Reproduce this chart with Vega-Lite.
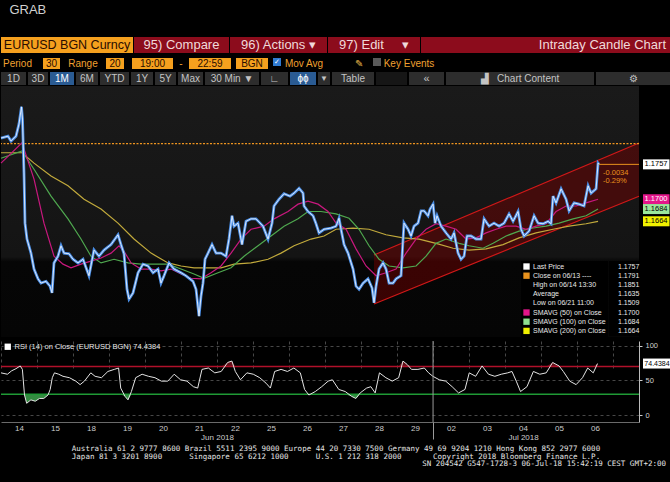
{
"$schema":"https://vega.github.io/schema/vega-lite/v6.json",
"background":"#000000",
"padding":{"left":-5,"top":4,"right":0,"bottom":16},
"title":{"text":"GRAB","anchor":"start","dx":14,"offset":20,"fontSize":13,"fontWeight":"normal","color":"#d0d0d0"},
"spacing":1,
"resolve":{"scale":{"color":"independent","shape":"independent","fill":"independent"},"legend":{"color":"independent","shape":"independent"}},
"datasets":{
"channel":[{"t":10.36,"hi":1.1609,"lo":1.1529},{"t":17.72,"hi":1.1792,"lo":1.1705}],
"boxes":[{"k":"Last","v":1.1757,"lab":"1.1757"},{"k":"S50","v":1.17,"lab":"1.1700"},{"k":"S100","v":1.1684,"lab":"1.1684"},{"k":"S200","v":1.1664,"lab":"1.1664"}],
"price":[{"t":0,"p":1.18},{"t":0.194,"p":1.1803},{"t":0.278,"p":1.1795},{"t":0.417,"p":1.1803},{"t":0.5,"p":1.1823},{"t":0.569,"p":1.1851},{"t":0.597,"p":1.1831},{"t":0.639,"p":1.1743},{"t":0.667,"p":1.1661},{"t":0.722,"p":1.1635},{"t":0.833,"p":1.1612},{"t":0.917,"p":1.1586},{"t":1.028,"p":1.157},{"t":1.111,"p":1.1563},{"t":1.25,"p":1.1566},{"t":1.361,"p":1.1558},{"t":1.417,"p":1.1547},{"t":1.472,"p":1.1596},{"t":1.583,"p":1.1607},{"t":1.667,"p":1.1624},{"t":1.75,"p":1.1612},{"t":1.889,"p":1.1611},{"t":2.0,"p":1.1602},{"t":2.139,"p":1.1596},{"t":2.278,"p":1.1602},{"t":2.444,"p":1.1575},{"t":2.583,"p":1.1617},{"t":2.722,"p":1.1607},{"t":2.861,"p":1.1617},{"t":3.056,"p":1.1626},{"t":3.25,"p":1.1642},{"t":3.333,"p":1.1626},{"t":3.417,"p":1.1611},{"t":3.5,"p":1.1553},{"t":3.556,"p":1.1537},{"t":3.667,"p":1.1547},{"t":3.806,"p":1.158},{"t":3.944,"p":1.1594},{"t":4.083,"p":1.1591},{"t":4.222,"p":1.158},{"t":4.361,"p":1.1586},{"t":4.444,"p":1.1563},{"t":4.528,"p":1.1575},{"t":4.667,"p":1.1596},{"t":4.806,"p":1.1586},{"t":5.0,"p":1.158},{"t":5.139,"p":1.1575},{"t":5.333,"p":1.1566},{"t":5.417,"p":1.1553},{"t":5.5,"p":1.1509},{"t":5.556,"p":1.1542},{"t":5.611,"p":1.1563},{"t":5.667,"p":1.1602},{"t":5.75,"p":1.1612},{"t":5.861,"p":1.1626},{"t":5.972,"p":1.1612},{"t":6.111,"p":1.1612},{"t":6.25,"p":1.1607},{"t":6.333,"p":1.1635},{"t":6.417,"p":1.1673},{"t":6.472,"p":1.1656},{"t":6.583,"p":1.1661},{"t":6.694,"p":1.1626},{"t":6.806,"p":1.1664},{"t":6.944,"p":1.1668},{"t":7.083,"p":1.1668},{"t":7.278,"p":1.1656},{"t":7.417,"p":1.1635},{"t":7.528,"p":1.1661},{"t":7.583,"p":1.1689},{"t":7.722,"p":1.17},{"t":7.861,"p":1.1709},{"t":8.028,"p":1.1705},{"t":8.139,"p":1.171},{"t":8.278,"p":1.1718},{"t":8.389,"p":1.171},{"t":8.417,"p":1.1689},{"t":8.528,"p":1.168},{"t":8.667,"p":1.1673},{"t":8.75,"p":1.166},{"t":8.833,"p":1.1645},{"t":8.972,"p":1.1651},{"t":9.167,"p":1.1653},{"t":9.306,"p":1.1656},{"t":9.389,"p":1.1669},{"t":9.444,"p":1.1651},{"t":9.528,"p":1.1626},{"t":9.639,"p":1.1612},{"t":9.778,"p":1.1586},{"t":9.861,"p":1.1558},{"t":9.944,"p":1.1553},{"t":10.056,"p":1.1563},{"t":10.194,"p":1.157},{"t":10.306,"p":1.1555},{"t":10.361,"p":1.1531},{"t":10.417,"p":1.1558},{"t":10.5,"p":1.1586},{"t":10.611,"p":1.1596},{"t":10.694,"p":1.1586},{"t":10.778,"p":1.1563},{"t":10.889,"p":1.1563},{"t":10.972,"p":1.157},{"t":11.111,"p":1.1575},{"t":11.167,"p":1.1635},{"t":11.194,"p":1.1661},{"t":11.306,"p":1.1651},{"t":11.389,"p":1.164},{"t":11.472,"p":1.1656},{"t":11.583,"p":1.1661},{"t":11.667,"p":1.1681},{"t":11.75,"p":1.1681},{"t":11.861,"p":1.1673},{"t":11.917,"p":1.1684},{"t":12.0,"p":1.1692},{"t":12.056,"p":1.1661},{"t":12.111,"p":1.1673},{"t":12.222,"p":1.1656},{"t":12.361,"p":1.1645},{"t":12.5,"p":1.1635},{"t":12.583,"p":1.1645},{"t":12.694,"p":1.1612},{"t":12.778,"p":1.1602},{"t":12.861,"p":1.1607},{"t":12.944,"p":1.164},{"t":13.056,"p":1.164},{"t":13.194,"p":1.1635},{"t":13.333,"p":1.1635},{"t":13.417,"p":1.1668},{"t":13.556,"p":1.1656},{"t":13.694,"p":1.1661},{"t":13.833,"p":1.1656},{"t":13.972,"p":1.1661},{"t":14.111,"p":1.1676},{"t":14.222,"p":1.1664},{"t":14.361,"p":1.168},{"t":14.444,"p":1.1651},{"t":14.528,"p":1.164},{"t":14.667,"p":1.1648},{"t":14.806,"p":1.1673},{"t":14.917,"p":1.1661},{"t":15.056,"p":1.166},{"t":15.194,"p":1.1664},{"t":15.278,"p":1.166},{"t":15.333,"p":1.1705},{"t":15.417,"p":1.1694},{"t":15.556,"p":1.1717},{"t":15.694,"p":1.17},{"t":15.778,"p":1.1681},{"t":15.917,"p":1.1694},{"t":16.056,"p":1.1692},{"t":16.194,"p":1.1689},{"t":16.306,"p":1.1722},{"t":16.389,"p":1.171},{"t":16.528,"p":1.1717},{"t":16.583,"p":1.1759},{"t":16.611,"p":1.1757}],
"m50":[{"t":0,"v":1.1759},{"t":0.583,"v":1.1792},{"t":0.917,"v":1.1733},{"t":1.194,"v":1.1661},{"t":1.472,"v":1.1607},{"t":1.722,"v":1.1594},{"t":1.944,"v":1.1588},{"t":2.222,"v":1.1594},{"t":2.5,"v":1.1599},{"t":2.778,"v":1.1604},{"t":3.056,"v":1.1612},{"t":3.278,"v":1.1624},{"t":3.417,"v":1.1615},{"t":3.611,"v":1.1596},{"t":3.889,"v":1.1586},{"t":4.167,"v":1.1586},{"t":4.444,"v":1.1583},{"t":4.722,"v":1.1586},{"t":5.0,"v":1.1578},{"t":5.278,"v":1.1571},{"t":5.556,"v":1.157},{"t":5.833,"v":1.158},{"t":6.111,"v":1.1591},{"t":6.389,"v":1.1612},{"t":6.667,"v":1.1635},{"t":6.944,"v":1.1651},{"t":7.306,"v":1.1656},{"t":7.583,"v":1.1668},{"t":7.972,"v":1.168},{"t":8.25,"v":1.1692},{"t":8.528,"v":1.1697},{"t":8.806,"v":1.1692},{"t":9.083,"v":1.168},{"t":9.306,"v":1.1661},{"t":9.583,"v":1.1651},{"t":9.861,"v":1.1619},{"t":10.139,"v":1.1591},{"t":10.417,"v":1.1575},{"t":10.694,"v":1.158},{"t":10.972,"v":1.1586},{"t":11.25,"v":1.1612},{"t":11.528,"v":1.1635},{"t":11.806,"v":1.1651},{"t":12.083,"v":1.166},{"t":12.361,"v":1.1656},{"t":12.639,"v":1.1651},{"t":12.917,"v":1.1635},{"t":13.194,"v":1.1637},{"t":13.472,"v":1.1645},{"t":13.75,"v":1.1651},{"t":14.028,"v":1.1656},{"t":14.306,"v":1.1656},{"t":14.583,"v":1.1651},{"t":14.861,"v":1.1656},{"t":15.139,"v":1.166},{"t":15.417,"v":1.168},{"t":15.694,"v":1.1689},{"t":15.972,"v":1.1689},{"t":16.25,"v":1.1694},{"t":16.583,"v":1.17}],
"m100":[{"t":0,"v":1.1767},{"t":0.583,"v":1.1779},{"t":0.917,"v":1.1749},{"t":1.389,"v":1.1705},{"t":1.861,"v":1.1668},{"t":2.222,"v":1.1635},{"t":2.5,"v":1.1607},{"t":2.778,"v":1.1596},{"t":3.139,"v":1.1602},{"t":3.528,"v":1.1596},{"t":3.889,"v":1.1594},{"t":4.25,"v":1.1594},{"t":4.639,"v":1.1594},{"t":5.0,"v":1.1586},{"t":5.361,"v":1.1578},{"t":5.639,"v":1.1571},{"t":6.028,"v":1.158},{"t":6.389,"v":1.1588},{"t":6.75,"v":1.1607},{"t":7.139,"v":1.1624},{"t":7.5,"v":1.164},{"t":7.861,"v":1.1656},{"t":8.25,"v":1.1668},{"t":8.528,"v":1.168},{"t":8.889,"v":1.168},{"t":9.306,"v":1.1676},{"t":9.667,"v":1.1669},{"t":9.944,"v":1.1651},{"t":10.222,"v":1.1624},{"t":10.5,"v":1.1602},{"t":10.778,"v":1.1591},{"t":11.167,"v":1.1588},{"t":11.528,"v":1.1591},{"t":11.806,"v":1.1607},{"t":12.083,"v":1.1628},{"t":12.361,"v":1.1635},{"t":12.722,"v":1.1628},{"t":13.0,"v":1.1624},{"t":13.389,"v":1.162},{"t":13.667,"v":1.1628},{"t":14.028,"v":1.164},{"t":14.389,"v":1.1648},{"t":14.778,"v":1.1653},{"t":15.139,"v":1.1656},{"t":15.5,"v":1.1661},{"t":15.889,"v":1.1668},{"t":16.25,"v":1.1673},{"t":16.583,"v":1.1684}],
"m200":[{"t":0,"v":1.1776},{"t":0.583,"v":1.1776},{"t":0.917,"v":1.1759},{"t":1.389,"v":1.1738},{"t":1.861,"v":1.1722},{"t":2.306,"v":1.17},{"t":2.778,"v":1.1684},{"t":3.25,"v":1.1661},{"t":3.694,"v":1.1635},{"t":4.167,"v":1.1612},{"t":4.639,"v":1.1596},{"t":5.0,"v":1.1591},{"t":5.361,"v":1.1588},{"t":5.75,"v":1.1588},{"t":6.111,"v":1.1588},{"t":6.472,"v":1.1594},{"t":6.944,"v":1.1596},{"t":7.417,"v":1.1602},{"t":7.778,"v":1.1612},{"t":8.139,"v":1.1624},{"t":8.611,"v":1.1635},{"t":8.972,"v":1.164},{"t":9.306,"v":1.1651},{"t":9.778,"v":1.1653},{"t":10.222,"v":1.1651},{"t":10.694,"v":1.1642},{"t":11.167,"v":1.1637},{"t":11.611,"v":1.1635},{"t":12.083,"v":1.1628},{"t":12.556,"v":1.162},{"t":13.0,"v":1.1617},{"t":13.472,"v":1.1619},{"t":13.944,"v":1.1626},{"t":14.389,"v":1.1637},{"t":14.861,"v":1.1645},{"t":15.333,"v":1.1651},{"t":15.778,"v":1.1656},{"t":16.25,"v":1.166},{"t":16.583,"v":1.1664}],
"rsi":[{"t":0,"r":61},{"t":0.178,"r":59},{"t":0.297,"r":64},{"t":0.416,"r":67},{"t":0.534,"r":71},{"t":0.594,"r":66},{"t":0.653,"r":29},{"t":0.713,"r":17},{"t":0.831,"r":22},{"t":0.95,"r":20},{"t":1.069,"r":24},{"t":1.188,"r":24},{"t":1.306,"r":29},{"t":1.366,"r":37},{"t":1.425,"r":54},{"t":1.485,"r":61},{"t":1.603,"r":59},{"t":1.722,"r":56},{"t":1.9,"r":54},{"t":2.078,"r":49},{"t":2.197,"r":44},{"t":2.316,"r":49},{"t":2.494,"r":61},{"t":2.613,"r":56},{"t":2.791,"r":54},{"t":2.969,"r":63},{"t":3.147,"r":66},{"t":3.266,"r":68},{"t":3.325,"r":39},{"t":3.444,"r":27},{"t":3.527,"r":22},{"t":3.622,"r":34},{"t":3.741,"r":54},{"t":3.919,"r":59},{"t":4.097,"r":56},{"t":4.276,"r":54},{"t":4.454,"r":49},{"t":4.632,"r":49},{"t":4.81,"r":59},{"t":4.988,"r":51},{"t":5.166,"r":49},{"t":5.344,"r":41},{"t":5.463,"r":39},{"t":5.582,"r":66},{"t":5.76,"r":68},{"t":5.938,"r":61},{"t":6.116,"r":63},{"t":6.295,"r":76},{"t":6.413,"r":78},{"t":6.508,"r":63},{"t":6.651,"r":51},{"t":6.829,"r":61},{"t":7.007,"r":59},{"t":7.185,"r":54},{"t":7.363,"r":46},{"t":7.482,"r":39},{"t":7.601,"r":63},{"t":7.779,"r":66},{"t":7.957,"r":63},{"t":8.135,"r":68},{"t":8.314,"r":61},{"t":8.432,"r":37},{"t":8.551,"r":29},{"t":8.729,"r":34},{"t":8.907,"r":41},{"t":9.086,"r":49},{"t":9.204,"r":51},{"t":9.382,"r":37},{"t":9.561,"r":34},{"t":9.739,"r":27},{"t":9.857,"r":24},{"t":9.976,"r":32},{"t":10.154,"r":39},{"t":10.273,"r":41},{"t":10.392,"r":32},{"t":10.511,"r":61},{"t":10.689,"r":54},{"t":10.867,"r":49},{"t":11.045,"r":54},{"t":11.164,"r":78},{"t":11.283,"r":73},{"t":11.401,"r":66},{"t":11.58,"r":66},{"t":11.758,"r":68},{"t":11.876,"r":61},{"t":11.995,"r":56},{"t":12.173,"r":51},{"t":12.352,"r":49},{"t":12.53,"r":41},{"t":12.708,"r":32},{"t":12.886,"r":37},{"t":13.005,"r":61},{"t":13.183,"r":56},{"t":13.361,"r":71},{"t":13.539,"r":59},{"t":13.717,"r":56},{"t":13.895,"r":59},{"t":14.074,"r":61},{"t":14.192,"r":63},{"t":14.311,"r":49},{"t":14.43,"r":34},{"t":14.608,"r":41},{"t":14.786,"r":63},{"t":14.964,"r":59},{"t":15.143,"r":61},{"t":15.321,"r":76},{"t":15.499,"r":71},{"t":15.618,"r":63},{"t":15.796,"r":49},{"t":15.974,"r":44},{"t":16.152,"r":54},{"t":16.295,"r":68},{"t":16.449,"r":61},{"t":16.568,"r":74.4}]
},
"vconcat":[
{"vconcat":[
 {"hconcat":[
  {"width":132,"height":16,"view":{"fill":"#f5a01e","stroke":null},"data":{"values":[{}]},"mark":{"type":"text","fontSize":12.5,"color":"#2a0c00"},"encoding":{"text":{"value":"EURUSD BGN Curncy"}}},
  {"width":95,"height":16,"view":{"fill":"#8c0c1c","stroke":null},"data":{"values":[{}]},"mark":{"type":"text","fontSize":13,"color":"#f0dada"},"encoding":{"text":{"value":"95) Compare"}}},
  {"width":97,"height":16,"view":{"fill":"#8c0c1c","stroke":null},"data":{"values":[{}]},"mark":{"type":"text","fontSize":13,"color":"#f0dada"},"encoding":{"text":{"value":"96) Actions ▾"}}},
  {"width":92,"height":16,"view":{"fill":"#8c0c1c","stroke":null},"data":{"values":[{}]},"mark":{"type":"text","fontSize":13,"color":"#f0dada"},"encoding":{"text":{"value":"97) Edit\u00a0\u00a0\u00a0\u00a0\u00a0▾"}}},
  {"width":250,"height":16,"view":{"fill":"#8c0c1c","stroke":null},"data":{"values":[{}]},"mark":{"type":"text","fontSize":13,"color":"#f0dada","align":"right","dx":-5},"encoding":{"x":{"value":"width"},"text":{"value":"Intraday Candle Chart"}}}
 ],"spacing":1,"bounds":"flush"},
 {"hconcat":[
  {"width":33,"height":11,"data":{"values":[{}]},"mark":{"type":"text","fontSize":10,"color":"#f0a030"},"encoding":{"text":{"value":"Period"}}},
  {"width":9,"height":11,"data":{"values":[{}]},"mark":{"type":"text"},"encoding":{"text":{"value":""}}},
  {"width":17,"height":11,"view":{"fill":"#f5a01e","stroke":null},"data":{"values":[{}]},"mark":{"type":"text","fontSize":10,"color":"#2a0c00"},"encoding":{"text":{"value":"30"}}},
  {"width":46,"height":11,"data":{"values":[{}]},"mark":{"type":"text","fontSize":10,"color":"#f0a030"},"encoding":{"text":{"value":"Range"}}},
  {"width":18,"height":11,"view":{"fill":"#f5a01e","stroke":null},"data":{"values":[{}]},"mark":{"type":"text","fontSize":10,"color":"#2a0c00"},"encoding":{"text":{"value":"20"}}},
  {"width":8,"height":11,"data":{"values":[{}]},"mark":{"type":"text"},"encoding":{"text":{"value":""}}},
  {"width":41,"height":11,"view":{"fill":"#f5a01e","stroke":null},"data":{"values":[{}]},"mark":{"type":"text","fontSize":10,"color":"#2a0c00"},"encoding":{"text":{"value":"19:00"}}},
  {"width":16,"height":11,"data":{"values":[{}]},"mark":{"type":"text","fontSize":10,"color":"#f0a030"},"encoding":{"text":{"value":"-"}}},
  {"width":42,"height":11,"view":{"fill":"#f5a01e","stroke":null},"data":{"values":[{}]},"mark":{"type":"text","fontSize":10,"color":"#2a0c00"},"encoding":{"text":{"value":"22:59"}}},
  {"width":5,"height":11,"data":{"values":[{}]},"mark":{"type":"text"},"encoding":{"text":{"value":""}}},
  {"width":32,"height":11,"view":{"fill":"#f5a01e","stroke":null},"data":{"values":[{}]},"mark":{"type":"text","fontSize":10,"color":"#2a0c00"},"encoding":{"text":{"value":"BGN"}}},
  {"width":5,"height":11,"data":{"values":[{}]},"mark":{"type":"text"},"encoding":{"text":{"value":""}}},
  {"width":8,"height":8,"view":{"fill":"#2f7ad0","stroke":null},"data":{"values":[{}]},"mark":{"type":"text","fontSize":7,"color":"#ffffff"},"encoding":{"text":{"value":"✓"}}},
  {"width":46,"height":11,"data":{"values":[{}]},"mark":{"type":"text","fontSize":10,"color":"#f0a030"},"encoding":{"text":{"value":"Mov Avg"}}},
  {"width":24,"height":11,"data":{"values":[{}]},"mark":{"type":"text"},"encoding":{"text":{"value":""}}},
  {"width":16,"height":11,"data":{"values":[{}]},"mark":{"type":"text","fontSize":10,"color":"#e8b84a"},"encoding":{"text":{"value":"✎"}}},
  {"width":6,"height":11,"data":{"values":[{}]},"mark":{"type":"text"},"encoding":{"text":{"value":""}}},
  {"width":8,"height":8,"view":{"fill":"#5a5a5a","stroke":null},"data":{"values":[{}]},"mark":{"type":"text"},"encoding":{"text":{"value":""}}},
  {"width":56,"height":11,"data":{"values":[{}]},"mark":{"type":"text","fontSize":10,"color":"#f0a030"},"encoding":{"text":{"value":"Key Events"}}}
 ],"spacing":0,"bounds":"flush"},
 {"hconcat":[
  {"width":25,"height":13,"view":{"fill":"#2d2d2d","stroke":null},"data":{"values":[{}]},"mark":{"type":"text","fontSize":10,"color":"#c4c4c4"},"encoding":{"text":{"value":"1D"}}},
  {"width":20,"height":13,"view":{"fill":"#2d2d2d","stroke":null},"data":{"values":[{}]},"mark":{"type":"text","fontSize":10,"color":"#c4c4c4"},"encoding":{"text":{"value":"3D"}}},
  {"width":24,"height":13,"view":{"fill":"#2a5b93","stroke":null},"data":{"values":[{}]},"mark":{"type":"text","fontSize":10,"color":"#ffffff"},"encoding":{"text":{"value":"1M"}}},
  {"width":22,"height":13,"view":{"fill":"#2d2d2d","stroke":null},"data":{"values":[{}]},"mark":{"type":"text","fontSize":10,"color":"#c4c4c4"},"encoding":{"text":{"value":"6M"}}},
  {"width":29,"height":13,"view":{"fill":"#2d2d2d","stroke":null},"data":{"values":[{}]},"mark":{"type":"text","fontSize":10,"color":"#c4c4c4"},"encoding":{"text":{"value":"YTD"}}},
  {"width":22,"height":13,"view":{"fill":"#2d2d2d","stroke":null},"data":{"values":[{}]},"mark":{"type":"text","fontSize":10,"color":"#c4c4c4"},"encoding":{"text":{"value":"1Y"}}},
  {"width":21,"height":13,"view":{"fill":"#2d2d2d","stroke":null},"data":{"values":[{}]},"mark":{"type":"text","fontSize":10,"color":"#c4c4c4"},"encoding":{"text":{"value":"5Y"}}},
  {"width":25,"height":13,"view":{"fill":"#2d2d2d","stroke":null},"data":{"values":[{}]},"mark":{"type":"text","fontSize":10,"color":"#c4c4c4"},"encoding":{"text":{"value":"Max"}}},
  {"width":54,"height":13,"view":{"fill":"#2d2d2d","stroke":null},"data":{"values":[{}]},"mark":{"type":"text","fontSize":10,"color":"#c4c4c4"},"encoding":{"text":{"value":"30 Min ▼"}}},
  {"width":27,"height":13,"view":{"fill":"#2d2d2d","stroke":null},"data":{"values":[{}]},"mark":{"type":"text","fontSize":10,"color":"#c4c4c4"},"encoding":{"text":{"value":"∟"}}},
  {"width":26,"height":13,"view":{"fill":"#2a5b93","stroke":null},"data":{"values":[{}]},"mark":{"type":"text","fontSize":10,"color":"#ffffff"},"encoding":{"text":{"value":"ɸɸ"}}},
  {"width":12,"height":13,"view":{"fill":"#2d2d2d","stroke":null},"data":{"values":[{}]},"mark":{"type":"text","fontSize":8,"color":"#c4c4c4"},"encoding":{"text":{"value":"▼"}}},
  {"width":42,"height":13,"view":{"fill":"#2d2d2d","stroke":null},"data":{"values":[{}]},"mark":{"type":"text","fontSize":10,"color":"#c4c4c4"},"encoding":{"text":{"value":"Table"}}},
  {"width":31,"height":13,"view":{"fill":"#161616","stroke":null},"data":{"values":[{}]},"mark":{"type":"text"},"encoding":{"text":{"value":""}}},
  {"width":35,"height":13,"view":{"fill":"#2d2d2d","stroke":null},"data":{"values":[{}]},"mark":{"type":"text","fontSize":11,"color":"#c4c4c4"},"encoding":{"text":{"value":"«"}}},
  {"width":148,"height":13,"view":{"fill":"#2d2d2d","stroke":null},"data":{"values":[{}]},"mark":{"type":"text","fontSize":10,"color":"#c4c4c4"},"encoding":{"text":{"value":"▟\u00a0\u00a0\u00a0Chart Content"}}},
  {"width":75,"height":13,"view":{"fill":"#2d2d2d","stroke":null},"data":{"values":[{}]},"mark":{"type":"text","fontSize":10,"color":"#c4c4c4"},"encoding":{"text":{"value":"⚙"}}}
 ],"spacing":2,"bounds":"flush"}
],"spacing":3},
{"vconcat":[
 {"width":638,"height":251,
  "view":{"fill":{"gradient":"linear","x1":0,"y1":0,"x2":0,"y2":1,"stops":[{"offset":0,"color":"#1a1a1a"},{"offset":0.68,"color":"#141414"},{"offset":0.7,"color":"#060606"},{"offset":1,"color":"#050505"}]},"stroke":null},
  "layer":[
   {"data":{"name":"channel"},"mark":{"type":"area","color":"#7a0000","opacity":0.45},"encoding":{
     "x":{"field":"t","type":"quantitative","scale":{"domain":[0,17.72],"nice":false,"zero":false},"axis":{"orient":"bottom","values":[0,1,2,3,4,5,6,7,8,9,10,11,12,13,14,15,16,17],"grid":true,"gridColor":"#474747","gridDash":[3,3],"labels":false,"ticks":false,"domainColor":"#8c8c8c","domainWidth":2,"title":null}},
     "y":{"field":"hi","type":"quantitative","scale":{"domain":[1.1475,1.1885],"nice":false,"zero":false},"axis":{"orient":"right","values":[1.15,1.155,1.16,1.165,1.17,1.175,1.18,1.185],"format":".4f","grid":true,"gridColor":"#474747","gridDash":[3,3],"tickSize":3,"tickColor":"#cccccc","domainColor":"#bbbbbb","labelColor":"#d0d0d0","labelFontSize":7.5,"labelPadding":3,"title":null}},
     "y2":{"field":"lo"}}},
   {"data":{"name":"channel"},"mark":{"type":"line","color":"#d01818","strokeWidth":1.2},"encoding":{"x":{"field":"t","type":"quantitative","scale":{"domain":[0,17.72],"nice":false,"zero":false},"axis":null},"y":{"field":"hi","type":"quantitative","scale":{"domain":[1.1475,1.1885],"nice":false,"zero":false},"axis":null}}},
   {"data":{"name":"channel"},"mark":{"type":"line","color":"#d01818","strokeWidth":1.2},"encoding":{"x":{"field":"t","type":"quantitative","scale":{"domain":[0,17.72],"nice":false,"zero":false},"axis":null},"y":{"field":"lo","type":"quantitative","scale":{"domain":[1.1475,1.1885],"nice":false,"zero":false},"axis":null}}},
   {"data":{"values":[{}]},"mark":{"type":"rule","color":"#f0951f","strokeDash":[2,1.5],"strokeWidth":1.2},"encoding":{"y":{"datum":1.1791,"scale":{"domain":[1.1475,1.1885],"nice":false,"zero":false},"axis":null}}},
   {"data":{"name":"m200"},"mark":{"type":"line","color":"#c2aa3c","strokeWidth":1.2},"encoding":{"x":{"field":"t","type":"quantitative","scale":{"domain":[0,17.72],"nice":false,"zero":false},"axis":null},"y":{"field":"v","type":"quantitative","scale":{"domain":[1.1475,1.1885],"nice":false,"zero":false},"axis":null}}},
   {"data":{"name":"m100"},"mark":{"type":"line","color":"#4fa84f","strokeWidth":1.2},"encoding":{"x":{"field":"t","type":"quantitative","scale":{"domain":[0,17.72],"nice":false,"zero":false},"axis":null},"y":{"field":"v","type":"quantitative","scale":{"domain":[1.1475,1.1885],"nice":false,"zero":false},"axis":null}}},
   {"data":{"name":"m50"},"mark":{"type":"line","color":"#c8187e","strokeWidth":1.2},"encoding":{"x":{"field":"t","type":"quantitative","scale":{"domain":[0,17.72],"nice":false,"zero":false},"axis":null},"y":{"field":"v","type":"quantitative","scale":{"domain":[1.1475,1.1885],"nice":false,"zero":false},"axis":null}}},
   {"data":{"name":"price"},"mark":{"type":"line","color":"#4a8ee6","strokeWidth":2.8},"encoding":{"x":{"field":"t","type":"quantitative","scale":{"domain":[0,17.72],"nice":false,"zero":false},"axis":null},"y":{"field":"p","type":"quantitative","scale":{"domain":[1.1475,1.1885],"nice":false,"zero":false},"axis":null}}},
   {"data":{"name":"price"},"mark":{"type":"line","color":"#f2f6fb","strokeWidth":1,"opacity":0.85},"encoding":{"x":{"field":"t","type":"quantitative","scale":{"domain":[0,17.72],"nice":false,"zero":false},"axis":null},"y":{"field":"p","type":"quantitative","scale":{"domain":[1.1475,1.1885],"nice":false,"zero":false},"axis":null}}},
   {"data":{"values":[{}]},"mark":{"type":"rule","color":"#e8921d","strokeWidth":1},"encoding":{"x":{"datum":16.61,"scale":{"domain":[0,17.72],"nice":false,"zero":false},"axis":null},"x2":{"datum":17.72},"y":{"datum":1.1757,"scale":{"domain":[1.1475,1.1885],"nice":false,"zero":false},"axis":null}}},
   {"data":{"values":[{}]},"mark":{"type":"text","color":"#e8921d","fontSize":7.5,"align":"left","lineBreak":"\n","lineHeight":8.5},"encoding":{"x":{"datum":16.72,"scale":{"domain":[0,17.72],"nice":false,"zero":false},"axis":null},"y":{"datum":1.1743,"scale":{"domain":[1.1475,1.1885],"nice":false,"zero":false},"axis":null},"text":{"value":"-0.0034\n-0.29%"}}},
   {"data":{"name":"boxes"},"mark":{"type":"point","shape":"M0.8,-1H6.1V1H0.8Z","size":100,"filled":true,"opacity":1},"encoding":{"x":{"datum":17.72,"scale":{"domain":[0,17.72],"nice":false,"zero":false},"axis":null},"y":{"field":"v","type":"quantitative","scale":{"domain":[1.1475,1.1885],"nice":false,"zero":false},"axis":null},"fill":{"field":"k","type":"nominal","scale":{"domain":["Last","S50","S100","S200"],"range":["#ffffff","#e3168a","#9be89b","#f2f200"]},"legend":null}}},
   {"data":{"name":"boxes"},"transform":[{"filter":"datum.k != 'S50'"}],"mark":{"type":"text","color":"#000000","fontSize":7.5,"dx":17,"align":"center"},"encoding":{"x":{"datum":17.72,"scale":{"domain":[0,17.72],"nice":false,"zero":false},"axis":null},"y":{"field":"v","type":"quantitative","scale":{"domain":[1.1475,1.1885],"nice":false,"zero":false},"axis":null},"text":{"field":"lab"}}},
   {"data":{"name":"boxes"},"transform":[{"filter":"datum.k == 'S50'"}],"mark":{"type":"text","color":"#ffffff","fontSize":7.5,"dx":17,"align":"center"},"encoding":{"x":{"datum":17.72,"scale":{"domain":[0,17.72],"nice":false,"zero":false},"axis":null},"y":{"field":"v","type":"quantitative","scale":{"domain":[1.1475,1.1885],"nice":false,"zero":false},"axis":null},"text":{"field":"lab"}}},
   {"data":{"values":[{"n":"Last Price","v":"1.1757"},{"n":"Close on 06/13 ----","v":"1.1791"},{"n":"High on 06/14 13:30","v":"1.1851"},{"n":"Average","v":"1.1635"},{"n":"Low on 06/21 11:00","v":"1.1509"},{"n":"SMAVG (50) on Close","v":"1.1700"},{"n":"SMAVG (100) on Close","v":"1.1684"},{"n":"SMAVG (200) on Close","v":"1.1664"}]},
    "mark":{"type":"point","filled":true,"opacity":0,"size":0},
    "encoding":{
     "color":{"field":"n","type":"nominal","scale":{"domain":["Last Price","Close on 06/13 ----","High on 06/14 13:30","Average","Low on 06/21 11:00","SMAVG (50) on Close","SMAVG (100) on Close","SMAVG (200) on Close"],"range":["#ffffff","#e8921d","#000000","#000000","#000000","#e3168a","#8fe08f","#f0f000"]},"legend":{"orient":"none","legendX":520,"legendY":175,"title":null,"symbolType":"square","symbolSize":40,"symbolStrokeWidth":0,"symbolOpacity":1,"labelFontSize":7,"labelColor":"#e8e8e8","rowPadding":1.2,"padding":2,"fillColor":"#000000","labelOffset":3,"labelLimit":200}},
     "shape":{"field":"v","type":"nominal","scale":{"domain":["1.1757","1.1791","1.1851","1.1635","1.1509","1.1700","1.1684","1.1664"],"range":["circle","circle","circle","circle","circle","circle","circle","circle"]},"legend":{"orient":"none","legendX":608,"legendY":175,"title":null,"symbolSize":0,"symbolOpacity":0,"symbolStrokeWidth":0,"labelFontSize":7,"labelColor":"#e8e8e8","rowPadding":1.2,"padding":2,"fillColor":"#000000","labelOffset":0}}
    }}
  ]},
 {"width":638,"height":81,"view":{"fill":"#000000","stroke":null},
  "resolve":{"scale":{"y":"independent"},"axis":{"x":"independent","y":"independent"}},
  "layer":[
   {"data":{"name":"rsi"},"mark":{"type":"area","color":"#3a9a48","opacity":0.9},"encoding":{
     "x":{"field":"t","type":"quantitative","scale":{"domain":[0,17.72],"nice":false,"zero":false},"axis":{"orient":"bottom","values":[0,1,2,3,4,5,6,7,8,9,10,11,12,13,14,15,16,17],"labelExpr":"['14','15','18','19','20','21','22','25','26','27','28','29','02','03','04','05','06',''][datum.value]","labelOffset":18,"labelFlush":false,"labelOverlap":false,"ticks":false,"grid":true,"gridColor":"#474747","gridDash":[3,3],"domainColor":"#6a6a6a","labelColor":"#cccccc","labelFontSize":8,"labelPadding":2,"title":null}},
     "y":{"field":"r","type":"quantitative","scale":{"domain":[-10,30],"range":[81,53.31],"clamp":true,"nice":false,"zero":false},"axis":null},"y2":{"datum":30}}},
   {"data":{"name":"rsi"},"mark":{"type":"area","color":"#a01a2a","opacity":0.6},"encoding":{"x":{"field":"t","type":"quantitative","scale":{"domain":[0,17.72],"nice":false,"zero":false},"axis":null},"y":{"field":"r","type":"quantitative","scale":{"domain":[70,107],"range":[25.62,0],"clamp":true,"nice":false,"zero":false},"axis":null},"y2":{"datum":70}}},
   {"data":{"values":[{}]},"mark":{"type":"rule","color":"#b0102a","strokeWidth":1.5},"encoding":{"y":{"datum":70,"scale":{"domain":[-10,107],"nice":false,"zero":false},"axis":null}}},
   {"data":{"values":[{}]},"mark":{"type":"rule","color":"#1f9a35","strokeWidth":1.5},"encoding":{"y":{"datum":30,"scale":{"domain":[-10,107],"nice":false,"zero":false},"axis":null}}},
   {"data":{"name":"rsi"},"mark":{"type":"line","color":"#e4e4e4","strokeWidth":1},"encoding":{
     "x":{"field":"t","type":"quantitative","scale":{"domain":[0,17.72],"nice":false,"zero":false},"axis":null},
     "y":{"field":"r","type":"quantitative","scale":{"domain":[-10,107],"nice":false,"zero":false},"axis":{"orient":"right","values":[0,50,100],"grid":true,"gridColor":"#474747","gridDash":[3,3],"tickSize":3,"tickColor":"#cccccc","domainColor":"#bbbbbb","labelColor":"#d0d0d0","labelFontSize":7.5,"labelPadding":3,"title":null}}}},
   {"data":{"values":[{}]},"mark":{"type":"point","shape":"M0.8,-1H6.3V1H0.8Z","size":100,"filled":true,"opacity":1,"color":"#ffffff"},"encoding":{"x":{"datum":17.72,"scale":{"domain":[0,17.72],"nice":false,"zero":false},"axis":null},"y":{"datum":74.4384,"scale":{"domain":[-10,107],"nice":false,"zero":false},"axis":null}}},
   {"data":{"values":[{}]},"mark":{"type":"text","color":"#000000","fontSize":7,"dx":18,"align":"center"},"encoding":{"x":{"datum":17.72,"scale":{"domain":[0,17.72],"nice":false,"zero":false},"axis":null},"y":{"datum":74.4384,"scale":{"domain":[-10,107],"nice":false,"zero":false},"axis":null},"text":{"value":"74.4384"}}},
   {"data":{"values":[{}]},"mark":{"type":"point","filled":true,"opacity":0,"size":0},"encoding":{"color":{"datum":"RSI (14) on Close (EURUSD BGN) 74.4384","type":"nominal","scale":{"range":["#ffffff"]},"legend":{"orient":"none","legendX":3,"legendY":2,"title":null,"symbolType":"square","symbolSize":40,"symbolStrokeWidth":0,"symbolOpacity":1,"labelFontSize":7.5,"labelColor":"#e8e8e8","padding":0,"labelOffset":3,"labelLimit":300}}}},
   {"data":{"values":[{"t":12}]},"mark":{"type":"rule","color":"#9a9a9a","strokeWidth":1},"encoding":{"x":{"field":"t","type":"quantitative","scale":{"domain":[0,17.72],"nice":false,"zero":false},"axis":{"orient":"bottom","values":[6,12,14.5],"labelExpr":"datum.value == 6 ? 'Jun 2018' : (datum.value == 14.5 ? 'Jul 2018' : '')","ticks":true,"tickSize":17,"tickColor":{"condition":{"test":"datum.value == 12","value":"#9a9a9a"},"value":"rgba(0,0,0,0)"},"domain":false,"grid":false,"labelPadding":-6,"labelColor":"#cccccc","labelFontSize":8,"labelFlush":false,"labelOverlap":false,"title":null}}}}
  ]}
],"spacing":3,"resolve":{"scale":{"color":"independent","shape":"independent","fill":"independent"},"legend":{"color":"independent","shape":"independent"}}},
{"width":670,"height":14,"data":{"values":[{}]},
 "layer":[
  {"mark":{"type":"text","font":"DejaVu Sans Mono","fontSize":7.5,"color":"#e6e6e6","lineBreak":"\n","lineHeight":7.5},"encoding":{"text":{"value":"Australia 61 2 9777 8600 Brazil 5511 2395 9000 Europe 44 20 7330 7500 Germany 49 69 9204 1210 Hong Kong 852 2977 6000\nJapan 81 3 3201 8900\u00a0\u00a0\u00a0\u00a0\u00a0\u00a0Singapore 65 6212 1000\u00a0\u00a0\u00a0\u00a0\u00a0\u00a0U.S. 1 212 318 2000\u00a0\u00a0\u00a0\u00a0\u00a0\u00a0\u00a0Copyright 2018 Bloomberg Finance L.P."}}},
  {"mark":{"type":"text","font":"DejaVu Sans Mono","fontSize":7.5,"color":"#e6e6e6","align":"right","baseline":"top","dx":-5,"dy":4},"encoding":{"x":{"value":"width"},"y":{"value":"height"},"text":{"value":"SN 204542 G547-1728-3 06-Jul-18 15:42:19 CEST GMT+2:00"}}}
 ]}
],
"config":{"view":{"stroke":null},"font":"Liberation Sans, Arial, sans-serif","text":{"font":"Liberation Sans, Arial, sans-serif"},"axis":{"labelFont":"Liberation Sans, Arial, sans-serif"},"legend":{"labelFont":"Liberation Sans, Arial, sans-serif"},"title":{"font":"Liberation Sans, Arial, sans-serif"}}
}
